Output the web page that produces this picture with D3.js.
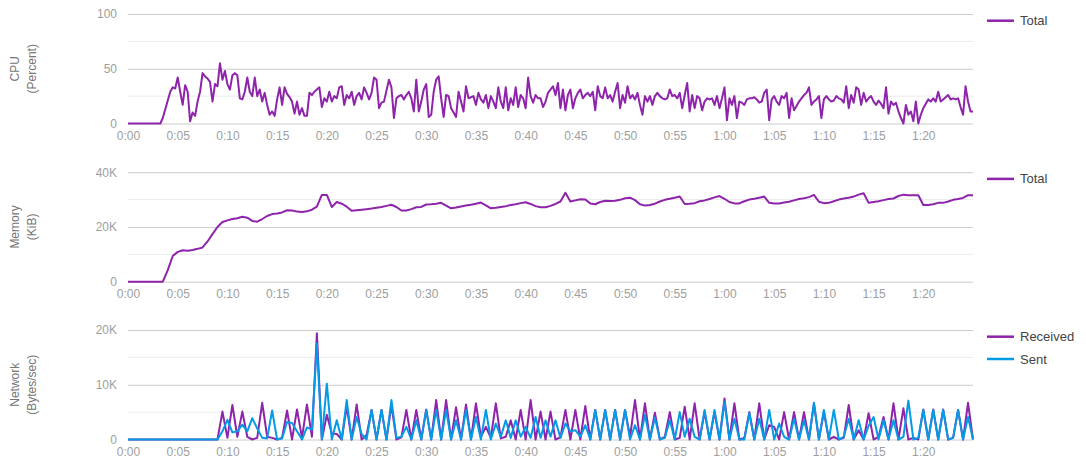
<!DOCTYPE html>
<html>
<head>
<meta charset="utf-8">
<title>CPU / Memory / Network</title>
<script src="https://cdn.jsdelivr.net/npm/d3@7"></script>
<style>
  body { margin: 0; background: #fff; }
  svg text { font-family: Arial, "Liberation Sans", sans-serif; }
</style>
</head>
<body>
<div id="chart"></div>
<script>
// ---------------------------------------------------------------------------
// Data /////////////////////////////////////////////
// ---------------------------------------------------------------------------

// CPU total, percent, one sample every 0.25 s (one row = 5 s)
const cpuStep = 0.25;
const cpuTotal = [
  0, 0, 0, 0, 0, 0, 0, 0, 0, 0, 0, 0, 0, 0, 5, 13, 21, 29, 33, 32,
  42, 29, 17, 35, 29, 2, 10, 7, 20, 29, 46, 43, 41, 38, 20, 36, 34, 55, 40, 48,
  36, 31, 44, 46, 44, 23, 22, 29, 42, 29, 25, 42, 25, 31, 20, 28, 17, 8, 11, 7,
  22, 33, 17, 33, 27, 24, 20, 9, 20, 8, 14, 7, 7, 28, 26, 29, 31, 33, 15, 23,
  20, 29, 20, 25, 23, 33, 34, 17, 26, 23, 29, 17, 25, 28, 22, 33, 28, 22, 28, 42,
  40, 14, 19, 20, 30, 40, 33, 5, 23, 25, 26, 22, 26, 29, 23, 11, 40, 11, 20, 31,
  36, 6, 8, 29, 40, 43, 23, 6, 26, 25, 14, 10, 6, 29, 20, 11, 34, 23, 24, 25,
  17, 28, 22, 19, 26, 14, 25, 20, 14, 33, 20, 14, 33, 12, 23, 17, 33, 15, 26, 23,
  14, 42, 25, 19, 26, 23, 23, 15, 20, 28, 31, 34, 26, 37, 14, 31, 12, 26, 31, 14,
  23, 28, 31, 23, 26, 28, 25, 29, 12, 34, 25, 23, 33, 23, 26, 20, 29, 37, 14, 26,
  19, 34, 23, 26, 22, 28, 17, 8, 25, 20, 25, 17, 25, 28, 25, 23, 22, 23, 31, 25,
  26, 23, 28, 14, 26, 37, 11, 26, 14, 25, 23, 12, 20, 23, 22, 23, 17, 25, 14, 23,
  33, 3, 23, 17, 25, 5, 20, 19, 17, 22, 23, 23, 24, 22, 19, 20, 28, 31, 3, 22,
  25, 20, 17, 25, 23, 28, 5, 23, 12, 16, 20, 23, 26, 28, 33, 17, 20, 22, 25, 5,
  22, 25, 22, 20, 21, 25, 23, 22, 19, 34, 14, 26, 19, 33, 31, 17, 28, 20, 23, 25,
  20, 17, 21, 18, 14, 33, 9, 20, 17, 19, 11, 5, 0, 17, 8, 11, 2, 20, 0, 8,
  14, 18, 22, 20, 23, 20, 29, 20, 22, 24, 26, 22, 23, 22, 23, 15, 8, 34, 20, 11,
  11
];

// Memory total, thousands of KiB, one sample every 0.5 s (one row = 5 s)
const memStep = 0.5;
const memTotal = [
  0, 0, 0, 0, 0, 0, 0, 0, 4.2, 9.4,
  10.9, 11.5, 11.3, 11.6, 12.0, 12.5, 14.7, 17.4, 20.0, 21.8,
  22.4, 22.9, 23.2, 23.7, 23.4, 22.2, 21.9, 22.9, 24.0, 24.7,
  24.9, 25.3, 26.1, 26.0, 25.6, 25.5, 25.7, 26.3, 27.4, 31.7,
  31.7, 27.3, 29.1, 28.5, 27.4, 25.9, 26.1, 26.3, 26.5, 26.7,
  27.0, 27.3, 27.7, 28.1, 27.3, 26.0, 26.0, 26.5, 27.2, 27.3,
  28.2, 28.3, 28.5, 28.8, 27.8, 26.8, 27.1, 27.5, 27.8, 28.1,
  28.5, 28.9, 27.9, 26.8, 27.0, 27.3, 27.6, 28.0, 28.3, 28.7,
  29.0, 28.4, 27.6, 27.2, 27.2, 27.7, 28.4, 29.3, 32.5, 29.3,
  29.7, 30.1, 30.0, 28.6, 28.3, 29.1, 29.6, 29.5, 29.6, 29.9,
  30.5, 30.7, 29.8, 28.3, 27.8, 28.0, 28.5, 29.3, 29.9, 30.3,
  30.7, 31.1, 28.4, 28.5, 28.7, 29.4, 29.7, 30.2, 30.8, 31.3,
  30.3, 29.1, 28.6, 28.6, 29.4, 30.0, 30.3, 30.7, 31.1, 28.8,
  28.6, 28.6, 28.9, 29.2, 29.7, 30.2, 30.5, 30.9, 31.7, 29.2,
  28.7, 28.8, 29.4, 30.0, 30.4, 30.7, 31.1, 31.8, 32.3, 28.8,
  29.1, 29.4, 29.8, 30.2, 30.4, 31.3, 31.8, 31.6, 31.6, 31.6,
  28.0, 28.0, 28.3, 28.8, 28.8, 29.3, 29.9, 30.2, 30.6, 31.6,
  31.6
];

// Network, thousands of bytes/sec, one sample every 0.5 s (one row = 5 s)
const netStep = 0.5;
const netReceived = [
  0, 0, 0, 0, 0, 0, 0, 0, 0, 0,
  0, 0, 0, 0, 0, 0, 0, 0, 0, 5.1,
  0.3, 6.3, 0.5, 5.1, 0.5, 0, 0.3, 6.7, 0.5, 0.3,
  0, 0.3, 5.3, 0, 5.5, 0.3, 6.4, 0.5, 19.4, 0,
  4.5, 1.1, 1.0, 0, 6.0, 0, 6.4, 0, 0.8, 5.4,
  0, 5.4, 0, 6.3, 0, 0.4, 5.4, 0, 5.4, 0,
  5.5, 0, 7.2, 0, 7.2, 0, 5.9, 0, 6.4, 0,
  6.6, 0.5, 2.3, 0.3, 6.6, 0.2, 0.5, 3.5, 0, 5.4,
  0, 7.2, 0, 5.1, 0, 5.1, 0, 0.4, 5.4, 0,
  5.4, 0, 6.1, 0, 5.4, 0, 5.4, 0, 5.4, 0,
  5.4, 0.5, 7.2, 0, 6.6, 0, 4.9, 0, 0.5, 5.0,
  0, 0.3, 6.0, 0, 6.6, 0, 5.0, 0, 5.0, 0,
  7.5, 0, 6.6, 0, 0.3, 5.0, 0, 6.6, 0, 2.6,
  2.3, 0, 5.0, 0, 5.0, 0, 5.0, 0, 6.6, 0,
  5.0, 0, 0.5, 0, 0.3, 6.3, 0, 1.7, 0, 4.8,
  0, 0.5, 4.1, 0, 6.6, 0, 5.7, 0, 0.3, 0,
  5.5, 0, 5.5, 0, 5.5, 0, 0.3, 5.4, 0, 6.7,
  0
];
const netSent = [
  0, 0, 0, 0, 0, 0, 0, 0, 0, 0,
  0, 0, 0, 0, 0, 0, 0, 0, 0, 1.5,
  3.6, 1.3, 1.5, 2.7, 1.5, 3.9, 2.0, 0.3, 0.2, 5.3,
  0, 0.2, 3.2, 3.0, 1.5, 0, 2.2, 1.8, 17.5, 0,
  10.2, 0, 3.5, 0, 7.2, 0, 4.1, 1.0, 0, 5.4,
  0, 5.4, 0, 7.2, 0.3, 0.5, 2.3, 0, 3.5, 0,
  5.4, 0, 5.4, 0, 5.4, 0, 3.5, 0, 5.4, 0,
  4.1, 0, 5.4, 0, 2.9, 0.5, 3.5, 0.3, 3.5, 0.5,
  2.3, 0.3, 4.1, 0.3, 3.5, 0.5, 3.5, 0.3, 2.9, 1.5,
  1.7, 0.5, 2.6, 0, 5.4, 0, 5.4, 0, 5.4, 0,
  5.4, 0, 2.6, 0, 4.5, 0, 4.0, 0, 0.3, 3.5,
  0, 5.0, 0.5, 3.8, 0.5, 0, 5.4, 0, 5.4, 0,
  6.9, 0, 3.8, 0, 0, 4.8, 0, 3.8, 0, 5.4,
  0, 2.9, 0.5, 0, 3.8, 0, 3.5, 0, 6.7, 0,
  5.4, 0, 5.4, 0, 0.5, 3.8, 0, 3.5, 0, 2.5,
  4.1, 0, 3.5, 0, 3.5, 0, 0.5, 7.1, 0, 0.3,
  5.4, 0, 5.4, 0, 5.4, 0, 0.3, 5.4, 0, 4.1,
  0
];

// Axes
const timeDomain = [0, 85];
const timeTicks = [0, 5, 10, 15, 20, 25, 30, 35, 40, 45, 50, 55, 60, 65, 70, 75, 80];
const cpuTicks = [0, 50, 100];
const cpuMinor = [25, 75];
const memTicks = [0, 20, 40];
const memMinor = [10, 30];
const netTicks = [0, 10, 20];
const netMinor = [5, 15];

// ---------------------------------------------------------------------------
// Setup //////////////////////////////////////////////////////////////////////
// ---------------------------------------------------------------------------

const width = 1086;
const height = 463;
const left = 128;
const right = 973;
const panelH = 109.5;

const purple = '#8e24aa';
const blue = '#039be5';

const svg = d3.select('#chart').append('svg')
  .attr('width', width)
  .attr('height', height)
  .attr('viewBox', [0, 0, width, height]);

const x = d3.scaleLinear().domain(timeDomain).range([left, right]);

const fmtTime = s => Math.floor(s / 60) + ':' + String(s % 60).padStart(2, '0');
const fmtK = d => d === 0 ? '0' : d + 'K';

const panels = [
  {
    title: ['CPU', '(Percent)'], top: 14, ticks: cpuTicks, minor: cpuMinor, fmt: d => d,
    series: [{ name: 'Total', values: cpuTotal, step: cpuStep, color: purple }]
  },
  {
    title: ['Memory', '(KiB)'], top: 172.2, ticks: memTicks, minor: memMinor, fmt: fmtK,
    series: [{ name: 'Total', values: memTotal, step: memStep, color: purple }]
  },
  {
    title: ['Network', '(Bytes/sec)'], top: 330, ticks: netTicks, minor: netMinor, fmt: fmtK,
    series: [
      { name: 'Received', values: netReceived, step: netStep, color: purple },
      { name: 'Sent', values: netSent, step: netStep, color: blue }
    ]
  }
];

// ---------------------------------------------------------------------------
// Panels /////////////////////////////////////////////////////////////////////
// ---------------------------------------------------------------------------

panels.forEach(p => {
  const g = svg.append('g').attr('class', 'panel');
  const y = d3.scaleLinear()
    .domain([0, d3.max(p.ticks)])
    .range([p.top + panelH, p.top]);

  // minor gridlines
  g.append('g')
    .selectAll('line')
    .data(p.minor)
    .join('line')
    .attr('x1', left)
    .attr('x2', right)
    .attr('y1', d => y(d))
    .attr('y2', d => y(d))
    .attr('stroke', '#ebebeb')
    .attr('stroke-width', 1);

  // y axis + major gridlines
  const yAxis = g.append('g')
    .attr('transform', `translate(${left},0)`)
    .call(d3.axisLeft(y).tickValues(p.ticks).tickFormat(p.fmt)
      .tickSize(-(right - left)).tickPadding(11));
  yAxis.select('.domain').remove();
  yAxis.selectAll('line').attr('stroke', '#cccccc');
  yAxis.selectAll('text')
    .attr('fill', '#9e9e9e')
    .style('font-size', '12px');

  // x axis
  const xAxis = g.append('g')
    .attr('transform', `translate(0,${p.top + panelH})`)
    .call(d3.axisBottom(x).tickValues(timeTicks).tickFormat(fmtTime)
      .tickSize(0).tickPadding(8));
  xAxis.select('.domain').remove();
  xAxis.selectAll('text')
    .attr('fill', '#9e9e9e')
    .style('font-size', '12px');

  // axis title, two rotated lines
  const cy = p.top + panelH / 2;
  g.selectAll('.title')
    .data(p.title)
    .join('text')
    .attr('class', 'title')
    .attr('transform', (d, i) => `translate(${15 + i * 17},${cy}) rotate(-90)`)
    .attr('text-anchor', 'middle')
    .attr('dominant-baseline', 'central')
    .attr('fill', '#757575')
    .style('font-size', '12px')
    .text(d => d);

  // lines
  p.series.forEach(s => {
    const line = d3.line()
      .x((d, i) => x(i * s.step))
      .y(d => y(d));
    g.append('path')
      .datum(s.values)
      .attr('d', line)
      .attr('fill', 'none')
      .attr('stroke', s.color)
      .attr('stroke-width', 2)
      .attr('stroke-linejoin', 'round');
  });

  // legend
  const legend = g.append('g')
    .selectAll('g')
    .data(p.series)
    .join('g')
    .attr('transform', (d, i) => `translate(987,${p.top + 6.7 + i * 22.3})`);
  legend.append('line')
    .attr('x1', 0)
    .attr('x2', 27)
    .attr('stroke', d => d.color)
    .attr('stroke-width', 2.5);
  legend.append('text')
    .attr('x', 33)
    .attr('dy', '0.35em')
    .attr('fill', '#444')
    .style('font-size', '13px')
    .text(d => d.name);
});
</script>
</body>
</html>
